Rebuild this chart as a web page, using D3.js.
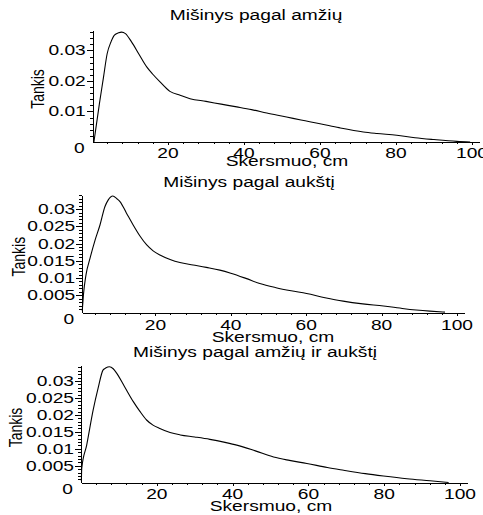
<!DOCTYPE html>
<html>
<head>
<meta charset="utf-8">
<script src="https://cdn.jsdelivr.net/npm/d3@7"></script>
<style>
  body { margin: 0; background: #fff; }
  svg { display: block; }
  text { font-family: "Liberation Sans", Arial, sans-serif; fill: #000; }
</style>
</head>
<body>
<svg id="chart" width="483" height="515"></svg>
<script>
// titles and labels
var titles = ["Mišinys pagal amžių", "Mišinys pagal aukštį", "Mišinys pagal amžių ir aukštį"];
var xLabel = "Skersmuo, cm";
var yLabel = "Tankis";

// ticks
var xTicks = [20, 40, 60, 80, 100];
var yTicksTop = [0.01, 0.02, 0.03];
var yTicksFine = [0.005, 0.01, 0.015, 0.02, 0.025, 0.03];

// density curves [diameter, density]
var byAge = [[0.5,0],[2,0.013],[3,0.021],[4,0.029],[5,0.0328],[5.9,0.035],[7,0.0358],[7.8,0.036],
  [8.8,0.0355],[10.4,0.0328],[12.4,0.0287],[14.4,0.0246],[16,0.0222],[17.9,0.0197],[20.5,0.0166],
  [23.2,0.0153],[25.8,0.0142],[30,0.0133],[34,0.0124],[38.1,0.0115],[42,0.0106],[46,0.0095],
  [51.2,0.0082],[55,0.0072],[60,0.006],[65,0.0047],[71.4,0.0033],[75,0.0028],[80.2,0.0022],
  [85,0.0014],[90,0.0008],[96,0.0002],[99.5,0]];

var byHeight = [[0.6,0.0005],[0.9,0.005],[1.6,0.011],[2.65,0.0157],[4,0.021],[5.3,0.0254],[6.6,0.0307],
  [7.5,0.0327],[8.7,0.0338],[9.8,0.033],[10.6,0.0322],[12.3,0.0289],[14.1,0.0254],[15.9,0.0222],
  [17.7,0.0196],[19.4,0.0179],[21.2,0.0167],[23.9,0.0154],[26.5,0.0145],[30,0.0138],[33.5,0.0131],
  [37.1,0.0123],[40,0.0114],[44,0.0099],[47.7,0.0084],[52,0.0072],[56,0.0063],[60.1,0.0055],
  [65,0.0043],[69.8,0.0033],[75,0.0025],[80.5,0.0019],[86,0.0011],[92.8,0.0004],[96.8,0.0001]];

var byBoth = [[0.1,0.0005],[0.2,0.0043],[1.5,0.0111],[3.2,0.0214],[4.5,0.0278],[5.8,0.0332],[6.5,0.0338],
  [7.5,0.0342],[8.5,0.0336],[9.4,0.0323],[11.5,0.0283],[13.8,0.0239],[15.5,0.0211],[17.3,0.0185],
  [19,0.017],[20.8,0.016],[23.5,0.0148],[26.2,0.0141],[30,0.0135],[34,0.0128],[38,0.0119],
  [41.1,0.0111],[46,0.0094],[50.8,0.0076],[55,0.0066],[59.6,0.0057],[65,0.0045],[69.3,0.0037],
  [75,0.0027],[79.8,0.002],[86,0.0012],[92.1,0.0006],[97,0.0001]];

var SX = 1.37; // the original text is stretched sideways

var svg = d3.select("#chart");

// layout of the three panels
var panels = [
  { data: byAge, title: titles[0], yt: yTicksTop, ylab: ["0.01","0.02","0.03"], minorY: 0.002,
    px0: 92, ppu: 3.8, xStart: 0.2, y0: 142, yTopPx: 30, yMax: 0.0367,
    titleX: 256, titleY: 19.5, xlabX: 287, xlabY: 165.5, ylabX: 37.5, ylabY: 89, xtY: 158 },
  { data: byHeight, title: titles[1], yt: yTicksFine, ylab: ["0.005","0.01","0.015","0.02","0.025","0.03"], minorY: 0.001,
    px0: 80, ppu: 3.77, xStart: 0.6, y0: 312.5, yTopPx: 195, yMax: 0.0341,
    titleX: 249, titleY: 186.5, xlabX: 273, xlabY: 342, ylabX: 18.3, ylabY: 256.7, xtY: 330 },
  { data: byBoth, title: titles[2], yt: yTicksFine, ylab: ["0.005","0.01","0.015","0.02","0.025","0.03"], minorY: 0.001,
    px0: 81, ppu: 3.79, xStart: 0, y0: 482.8, yTopPx: 365, yMax: 0.0347,
    titleX: 255, titleY: 356.5, xlabX: 271, xlabY: 511, ylabX: 15.7, ylabY: 427.5, xtY: 498.5 }
];

function stretchedText(g, x, y, str, anchor) {
  g.append("text")
    .attr("transform", "translate(" + x + "," + y + ") scale(" + SX + ",1)")
    .attr("text-anchor", anchor || "middle")
    .style("font-size", "14px")
    .text(str);
}

panels.forEach(function(p) {
  var g = svg.append("g");
  var xEnd = 102;
  var x = d3.scaleLinear().domain([p.xStart, xEnd])
    .range([p.px0 + p.xStart * p.ppu, p.px0 + xEnd * p.ppu]);
  var y = d3.scaleLinear().domain([0, p.yMax]).range([p.y0, p.yTopPx]);
  var axX = x(p.xStart);

  // minor ticks
  var xMinor = d3.range(4, 101, 4).filter(function(v) { return v % 20 != 0; });
  g.append("g").attr("transform", "translate(0," + p.y0 + ")")
    .call(d3.axisBottom(x).tickValues(xMinor).tickSize(2).tickFormat(""))
    .call(function(s) { s.select(".domain").remove(); });
  var yMinor = d3.range(p.minorY, p.yMax, p.minorY);
  g.append("g").attr("transform", "translate(" + axX + ",0)")
    .call(d3.axisLeft(y).tickValues(yMinor).tickSize(3).tickFormat(""))
    .call(function(s) { s.select(".domain").remove(); });

  // main axes
  g.append("g").attr("transform", "translate(0," + p.y0 + ")")
    .call(d3.axisBottom(x).tickValues(xTicks).tickSize(3).tickSizeOuter(0).tickFormat(""));
  g.append("g").attr("transform", "translate(" + axX + ",0)")
    .call(d3.axisLeft(y).tickValues(p.yt).tickSize(6).tickSizeOuter(0).tickFormat(""));
  g.selectAll(".domain, .tick line").attr("stroke", "#000").attr("shape-rendering", "crispEdges");

  // tick labels
  xTicks.forEach(function(v) { stretchedText(g, x(v), p.xtY, String(v)); });
  p.yt.forEach(function(v, i) { stretchedText(g, axX - 7, y(v) + 5, p.ylab[i], "end"); });
  stretchedText(g, axX - 8, p.y0 + 11, "0", "end");

  // curve
  g.append("path").datum(p.data)
    .attr("fill", "none").attr("stroke", "#000").attr("stroke-width", 1.1)
    .attr("d", d3.line().x(function(d) { return x(d[0]); }).y(function(d) { return y(d[1]); })
      .curve(d3.curveMonotoneX));

  // titles
  stretchedText(g, p.titleX, p.titleY, p.title);
  stretchedText(g, p.xlabX, p.xlabY, xLabel);
  g.append("text")
    .attr("transform", "translate(" + p.ylabX + "," + p.ylabY + ") scale(" + SX + ",1) rotate(-90)")
    .attr("text-anchor", "middle").attr("dy", "0.35em")
    .style("font-size", "14px")
    .text(yLabel);
});
</script>
</body>
</html>
